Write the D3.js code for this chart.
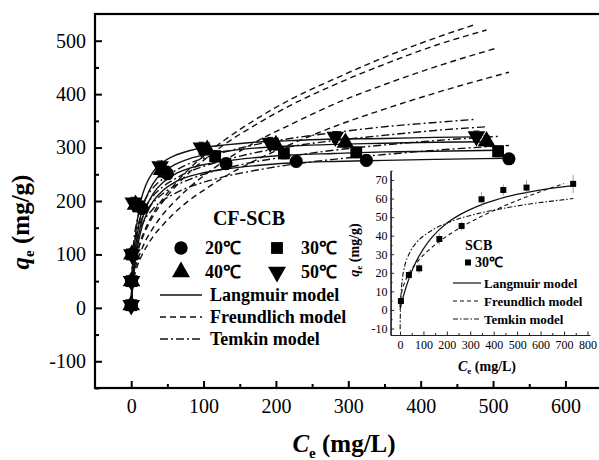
<!DOCTYPE html>
<html>
<head>
<meta charset="utf-8">
<script src="https://cdn.jsdelivr.net/npm/d3@7"></script>
<style>
  body { margin: 0; background: #fff; }
  text { font-family: "Liberation Serif", "Times New Roman", serif; fill: #000; }
</style>
</head>
<body>
<svg id="chart" width="599" height="460" font-family="Liberation Serif, serif"></svg>
<script>
// ---- main plot data (CF-SCB), one row per temperature: 20, 30, 40, 50 C
var temps = ["20℃", "30℃", "40℃", "50℃"];
var obsC = [
  [0, 0.5, 1, 15, 50, 131, 228, 325, 522],
  [0, 0.5, 1, 10, 45, 116, 211, 311, 507],
  [0, 0.5, 1, 6, 42, 105, 200, 296, 491],
  [0, 0.5, 1, 3, 40, 97, 192, 282, 477]
];
var obsQ = [
  [5, 50, 100, 186, 251, 270, 274, 276, 279],
  [5, 50, 100, 190, 255, 284, 289, 291, 293],
  [5, 50, 100, 193, 258, 296, 305, 309, 312],
  [5, 50, 100, 197, 265, 300, 309, 320, 321]
];
var obsErr = [7, 8, 8, 10, 10, 10, 10, 10, 10];

var fitC = [0, 1, 2, 4, 7, 10, 15, 20, 30, 45, 60, 80, 100, 130, 170, 220, 280, 350, 420];
var fitEnd = [522, 507, 491, 477];
var langmuirQ = [
  [0, 20, 37, 66, 99, 123, 152, 172, 199, 221, 235, 246, 253, 260, 266, 271, 274, 276, 278, 280],
  [0, 22, 42, 73, 108, 134, 165, 186, 213, 236, 250, 261, 268, 275, 281, 286, 289, 292, 293, 295],
  [0, 26, 49, 84, 123, 151, 183, 204, 232, 255, 268, 279, 286, 293, 299, 303, 306, 308, 310, 311],
  [0, 35, 63, 105, 148, 177, 209, 229, 254, 274, 285, 294, 300, 305, 310, 313, 316, 317, 319, 320]
];
var freundlichQ = [
  [0, 32, 43, 57, 72, 84, 99, 112, 133, 157, 178, 201, 220, 246, 275, 306, 339, 372, 402, 441],
  [0, 36, 48, 64, 81, 94, 111, 126, 149, 177, 199, 225, 247, 276, 309, 343, 381, 418, 451, 487],
  [0, 44, 58, 76, 95, 110, 129, 145, 171, 201, 225, 253, 276, 307, 341, 379, 417, 456, 491, 520],
  [0, 45, 59, 78, 98, 113, 133, 149, 176, 206, 231, 260, 284, 315, 351, 390, 428, 469, 505, 531]
];
var temkinC = [0.4, 1, 2, 4, 7, 10, 15, 20, 30, 45, 60, 80, 100, 130, 170, 220, 280, 350, 420];
var temkinQ = [
  [4, 43, 72, 100, 124, 139, 156, 168, 185, 202, 214, 226, 235, 246, 257, 268, 278, 287, 295, 304],
  [9, 49, 79, 109, 134, 149, 167, 180, 197, 215, 228, 240, 250, 261, 273, 284, 295, 305, 313, 321],
  [8, 50, 83, 115, 141, 158, 177, 190, 209, 228, 241, 255, 265, 277, 290, 302, 313, 323, 332, 339],
  [22, 65, 97, 130, 156, 173, 191, 205, 224, 243, 256, 270, 280, 292, 305, 317, 328, 339, 347, 353]
];

var xTicks = [0, 100, 200, 300, 400, 500, 600];
var yTicks = [-100, 0, 100, 200, 300, 400, 500];

// ---- inset data (SCB, 30 C)
var scbC = [4, 38, 82, 168, 263, 348, 441, 540, 739];
var scbQ = [4.8, 18.8, 22.4, 38.2, 45.2, 59.6, 64.6, 65.9, 67.9];
var scbErr = [2, 2.5, 2.7, 3, 2.5, 4, 3, 4, 5];
var scbLangC = [0, 5, 10, 20, 40, 60, 80, 120, 160, 200, 260, 330, 400, 480, 560, 650, 739];
var scbLangQ = [0, 2.7, 5.2, 9.8, 17.5, 23.7, 28.7, 36.5, 42.3, 46.7, 51.6, 55.8, 58.9, 61.7, 63.7, 65.6, 67.0];
var scbFreuC = [0.1, 1, 4, 10, 20, 40, 80, 120, 160, 200, 260, 330, 400, 480, 560, 640, 700];
var scbFreuQ = [1.5, 4.1, 7.4, 11, 14.8, 19.9, 26.8, 31.9, 36.1, 39.7, 44.5, 49.3, 53.5, 57.9, 61.9, 65.5, 68.1];
var scbTemC = [0.7, 1, 2, 5, 10, 20, 40, 70, 100, 140, 200, 280, 360, 440, 540, 640, 739];
var scbTemQ = [-10.4, -6.8, 0.2, 9.5, 16.5, 23.5, 30.5, 36.2, 39.8, 43.2, 46.8, 50.2, 52.7, 54.7, 56.8, 58.5, 60.0];

var insetXTicks = [0, 100, 200, 300, 400, 500, 600, 700, 800];
var insetYTicks = [-10, 0, 10, 20, 30, 40, 50, 60, 70];

var svg = d3.select("#chart");
var plain = function (d) { return String(d); }; // keep a plain hyphen for negatives

// line styles for the three models
var styles = { lang: null, freu: "6,4", tem: "8,3,2,3" };

// symbol for each temperature
function symbolFor(i, size) {
  var types = [d3.symbolCircle, d3.symbolSquare, d3.symbolTriangle, d3.symbolTriangle];
  return d3.symbol().type(types[i]).size(size)();
}
function rotFor(i) { return i === 3 ? " rotate(180)" : ""; }

function zipped(cs, qs) {
  return qs.map(function (q, k) { return [cs[k], q]; });
}

// ================= main plot =================
var x = d3.scaleLinear().domain([-50, 650]).range([95, 601.6]);
var y = d3.scaleLinear().domain([-150, 550]).range([388, 14]);

svg.append("clipPath").attr("id", "clipMain")
  .append("rect").attr("x", 95).attr("y", 14).attr("width", 507).attr("height", 374);

var plot = svg.append("g").attr("clip-path", "url(#clipMain)");

var line = d3.line()
  .x(function (d) { return x(d[0]); })
  .y(function (d) { return y(d[1]); })
  .curve(d3.curveMonotoneX);

temps.forEach(function (t, i) {
  var cs = fitC.concat([fitEnd[i]]);
  var ct = temkinC.concat([fitEnd[i]]);
  plot.append("path").attr("d", line(zipped(ct, temkinQ[i])))
    .attr("fill", "none").attr("stroke", "#111").attr("stroke-width", 1.4)
    .attr("stroke-dasharray", styles.tem);
  plot.append("path").attr("d", line(zipped(cs, freundlichQ[i])))
    .attr("fill", "none").attr("stroke", "#111").attr("stroke-width", 1.4)
    .attr("stroke-dasharray", styles.freu);
  plot.append("path").attr("d", line(zipped(cs, langmuirQ[i])))
    .attr("fill", "none").attr("stroke", "#111").attr("stroke-width", 1.4);
});

// error bars and markers
temps.forEach(function (t, i) {
  var pts = zipped(obsC[i], obsQ[i]);
  var g = plot.append("g");
  g.selectAll("line.eb").data(pts).join("line")
    .attr("x1", function (d) { return x(d[0]); })
    .attr("x2", function (d) { return x(d[0]); })
    .attr("y1", function (d, k) { return y(d[1] - obsErr[k]); })
    .attr("y2", function (d, k) { return y(d[1] + obsErr[k]); })
    .attr("stroke", "#111").attr("stroke-width", 1);
  g.selectAll("line.cap").data(pts.concat(pts)).join("line")
    .attr("x1", function (d) { return x(d[0]) - 3; })
    .attr("x2", function (d) { return x(d[0]) + 3; })
    .attr("y1", function (d, k) { var j = k % pts.length; return y(d[1] + (k < pts.length ? obsErr[j] : -obsErr[j])); })
    .attr("y2", function (d, k) { var j = k % pts.length; return y(d[1] + (k < pts.length ? obsErr[j] : -obsErr[j])); })
    .attr("stroke", "#111").attr("stroke-width", 1);
  g.selectAll("path").data(pts).join("path")
    .attr("d", symbolFor(i, i === 1 ? 140 : 135))
    .attr("transform", function (d) { return "translate(" + x(d[0]) + "," + y(d[1]) + ")" + rotFor(i); })
    .attr("fill", "#000");
});

// axes
var xAxis = svg.append("g").attr("transform", "translate(0,388)")
  .call(d3.axisBottom(x).tickValues(xTicks).tickFormat(plain).tickSize(-7).tickSizeOuter(0).tickPadding(11));
var xMinor = svg.append("g").attr("transform", "translate(0,388)")
  .call(d3.axisBottom(x).tickValues(xTicks.slice(0, 6).map(function (v) { return v + 50; }))
    .tickSize(-4).tickSizeOuter(0).tickFormat(""));
var yAxis = svg.append("g").attr("transform", "translate(95,0)")
  .call(d3.axisLeft(y).tickValues(yTicks).tickFormat(plain).tickSize(-7).tickSizeOuter(0).tickPadding(9));
var yMinor = svg.append("g").attr("transform", "translate(95,0)")
  .call(d3.axisLeft(y).tickValues(yTicks.map(function (v) { return v - 50; }).concat([450]))
    .tickSize(-4).tickSizeOuter(0).tickFormat(""));

[xAxis, xMinor, yAxis, yMinor].forEach(function (a) {
  a.attr("font-family", null);
  a.select(".domain").remove();
  a.selectAll(".tick line").attr("stroke", "#000").attr("stroke-width", 2);
  a.selectAll(".tick text").attr("font-size", 20).attr("fill", "#000");
});

// frame
svg.append("rect").attr("x", 95).attr("y", 14).attr("width", 507).attr("height", 374)
  .attr("fill", "none").attr("stroke", "#000").attr("stroke-width", 2.2);

// axis titles
var yt = svg.append("text").attr("transform", "translate(29,222) rotate(-90)")
  .attr("text-anchor", "middle").attr("font-weight", "bold").attr("font-size", 25);
yt.append("tspan").attr("font-style", "italic").text("q");
yt.append("tspan").attr("font-size", 15).attr("dy", 5).text("e");
yt.append("tspan").attr("dy", -5).text(" (mg/g)");

var xt = svg.append("text").attr("x", 344).attr("y", 452)
  .attr("text-anchor", "middle").attr("font-weight", "bold").attr("font-size", 25);
xt.append("tspan").attr("font-style", "italic").text("C");
xt.append("tspan").attr("font-size", 15).attr("dy", 6).text("e");
xt.append("tspan").attr("dy", -6).text(" (mg/L)");

// main legend
svg.append("text").attr("x", 249).attr("y", 225).attr("text-anchor", "middle")
  .attr("font-weight", "bold").attr("font-size", 20).text("CF-SCB");
var legPos = [[181, 248], [277, 248], [181, 272], [277, 272]];
temps.forEach(function (t, i) {
  svg.append("path").attr("d", symbolFor(i, 140))
    .attr("transform", "translate(" + legPos[i][0] + "," + legPos[i][1] + ")" + rotFor(i))
    .attr("fill", "#000");
  svg.append("text").attr("x", legPos[i][0] + 24).attr("y", legPos[i][1] + 6)
    .attr("font-weight", "bold").attr("font-size", 18).text(t);
});
var modelNames = ["Langmuir model", "Freundlich model", "Temkin model"];
var modelDash = [styles.lang, styles.freu, styles.tem];
var modelY = [295, 317, 339];
modelNames.forEach(function (m, k) {
  svg.append("line").attr("x1", 160).attr("x2", 202).attr("y1", modelY[k]).attr("y2", modelY[k])
    .attr("stroke", "#111").attr("stroke-width", 1.4).attr("stroke-dasharray", modelDash[k]);
  svg.append("text").attr("x", 210).attr("y", modelY[k] + 6)
    .attr("font-weight", "bold").attr("font-size", 18).text(m);
});

// ================= inset =================
var ix = d3.scaleLinear().domain([-40, 810]).range([390.6, 589.8]);
var iy = d3.scaleLinear().domain([-13.5, 75]).range([335, 170.7]);

var iline = d3.line()
  .x(function (d) { return ix(d[0]); })
  .y(function (d) { return iy(d[1]); })
  .curve(d3.curveMonotoneX);

var inset = svg.append("g");
inset.append("path").attr("d", iline(zipped(scbTemC, scbTemQ)))
  .attr("fill", "none").attr("stroke", "#111").attr("stroke-width", 1.1).attr("stroke-dasharray", "5,2,1.5,2");
inset.append("path").attr("d", iline(zipped(scbFreuC, scbFreuQ)))
  .attr("fill", "none").attr("stroke", "#111").attr("stroke-width", 1.1).attr("stroke-dasharray", "4,3");
inset.append("path").attr("d", iline(zipped(scbLangC, scbLangQ)))
  .attr("fill", "none").attr("stroke", "#111").attr("stroke-width", 1.2);

var spts = zipped(scbC, scbQ);
inset.selectAll("line.eb").data(spts).join("line")
  .attr("x1", function (d) { return ix(d[0]); })
  .attr("x2", function (d) { return ix(d[0]); })
  .attr("y1", function (d, k) { return iy(d[1] - scbErr[k]); })
  .attr("y2", function (d, k) { return iy(d[1] + scbErr[k]); })
  .attr("stroke", "#888").attr("stroke-width", 0.8);
inset.selectAll("rect.pt").data(spts).join("rect")
  .attr("x", function (d) { return ix(d[0]) - 3; })
  .attr("y", function (d) { return iy(d[1]) - 3; })
  .attr("width", 6).attr("height", 6).attr("fill", "#000");

var ixAxis = svg.append("g").attr("transform", "translate(0,335)")
  .call(d3.axisBottom(ix).tickValues(insetXTicks).tickFormat(plain).tickSize(-3.5).tickSizeOuter(0).tickPadding(5));
var ixMinor = svg.append("g").attr("transform", "translate(0,335)")
  .call(d3.axisBottom(ix).tickValues(insetXTicks.slice(0, 8).map(function (v) { return v + 50; }))
    .tickSize(-2).tickSizeOuter(0).tickFormat(""));
var iyAxis = svg.append("g").attr("transform", "translate(390.6,0)")
  .call(d3.axisLeft(iy).tickValues(insetYTicks).tickFormat(plain).tickSize(-3.5).tickSizeOuter(0).tickPadding(3));
var iyMinor = svg.append("g").attr("transform", "translate(390.6,0)")
  .call(d3.axisLeft(iy).tickValues(insetYTicks.map(function (v) { return v - 5; }).concat([75]).filter(function (v) { return v > -13.5; }))
    .tickSize(-2).tickSizeOuter(0).tickFormat(""));
[ixAxis, ixMinor, iyAxis, iyMinor].forEach(function (a) {
  a.attr("font-family", null);
  a.select(".domain").attr("stroke", "#222").attr("stroke-width", 1.2);
  a.selectAll(".tick line").attr("stroke", "#222").attr("stroke-width", 1);
  a.selectAll(".tick text").attr("font-size", 12).attr("fill", "#333");
});

var iyt = svg.append("text").attr("transform", "translate(359,250) rotate(-90)")
  .attr("text-anchor", "middle").attr("font-weight", "bold").attr("font-size", 14);
iyt.append("tspan").attr("font-style", "italic").text("q");
iyt.append("tspan").attr("font-size", 9).attr("dy", 3).text("e");
iyt.append("tspan").attr("dy", -3).text(" (mg/g)");

var ixt = svg.append("text").attr("x", 487).attr("y", 371)
  .attr("text-anchor", "middle").attr("font-weight", "bold").attr("font-size", 14);
ixt.append("tspan").attr("font-style", "italic").text("C");
ixt.append("tspan").attr("font-size", 9).attr("dy", 3).text("e");
ixt.append("tspan").attr("dy", -3).text(" (mg/L)");

// inset legend
svg.append("text").attr("x", 465).attr("y", 250).attr("font-weight", "bold")
  .attr("font-size", 14).text("SCB");
svg.append("rect").attr("x", 465).attr("y", 259.5).attr("width", 6).attr("height", 6).attr("fill", "#000");
svg.append("text").attr("x", 475).attr("y", 267).attr("font-weight", "bold")
  .attr("font-size", 14).text("30℃");
var insetDash = [null, "4,3", "5,2,1.5,2"];
var insetLegY = [283, 301, 319];
modelNames.forEach(function (m, k) {
  svg.append("line").attr("x1", 453).attr("x2", 481).attr("y1", insetLegY[k]).attr("y2", insetLegY[k])
    .attr("stroke", "#111").attr("stroke-width", 1.2).attr("stroke-dasharray", insetDash[k]);
  svg.append("text").attr("x", 484).attr("y", insetLegY[k] + 5)
    .attr("font-weight", "bold").attr("font-size", 13).text(m);
});
</script>
</body>
</html>
